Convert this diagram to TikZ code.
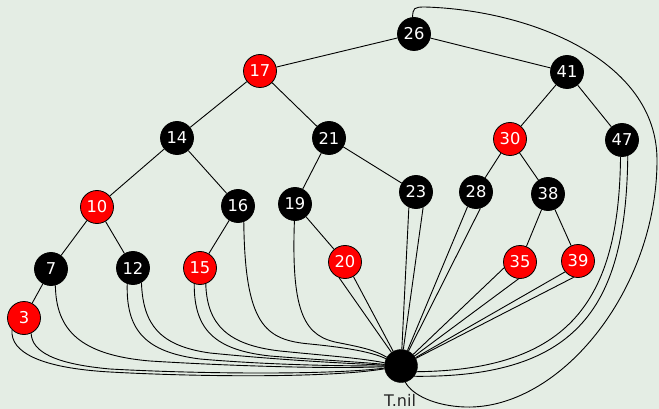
\documentclass[tikz,border=0pt]{standalone}
\usepackage{fontspec}
\setmainfont{DejaVu Sans}
\definecolor{bg}{RGB}{228,237,228}
\definecolor{rbred}{RGB}{255,0,0}
\begin{document}
\begin{tikzpicture}[x=1pt,y=-1pt,
  rbnode/.style={circle, minimum size=33pt, inner sep=0pt, draw=black, line width=0.8pt, text=white, font=\fontsize{16.3}{19}\selectfont},
  blk/.style={rbnode, fill=black},
  rd/.style={rbnode, fill=rbred},
  nilnode/.style={circle, minimum size=33pt, inner sep=0pt, draw=black, fill=black},
  nillabel/.style={text=black!85, inner sep=0pt, font=\fontsize{16}{18}\selectfont},
  link/.style={draw=black, line width=0.9pt}]
\fill[bg] (0,0) rectangle (659,409);
\useasboundingbox (0,0) rectangle (659,409);
% nodes
\node[blk] (n26) at (414,34) {26};
\node[rd]  (n17) at (260,71) {17};
\node[blk] (n41) at (567,72) {41};
\node[blk] (n14) at (177,138) {14};
\node[blk] (n21) at (329,138) {21};
\node[rd]  (n30) at (510,139) {30};
\node[blk] (n47) at (622,140) {47};
\node[rd]  (n10) at (97,207) {10};
\node[blk] (n16) at (238,206) {16};
\node[blk] (n19) at (295,204) {19};
\node[blk] (n23) at (416,192) {23};
\node[blk] (n28) at (476,192) {28};
\node[blk] (n38) at (548,194) {38};
\node[blk] (n7)  at (51,269) {7};
\node[blk] (n12) at (133,268) {12};
\node[rd]  (n15) at (200,268) {15};
\node[rd]  (n20) at (345,262) {20};
\node[rd]  (n35) at (520,262) {35};
\node[rd]  (n39) at (578,261) {39};
\node[rd]  (n3)  at (24,318) {3};
\node[nilnode] (nil) at (401,366) {};
\node[nillabel] (nillab) at (400,400) {T.nil};
% tree edges
\draw[link] (n26) -- (n17);
\draw[link] (n26) -- (n41);
\draw[link] (n17) -- (n14);
\draw[link] (n17) -- (n21);
\draw[link] (n41) -- (n30);
\draw[link] (n41) -- (n47);
\draw[link] (n14) -- (n10);
\draw[link] (n14) -- (n16);
\draw[link] (n21) -- (n19);
\draw[link] (n21) -- (n23);
\draw[link] (n30) -- (n28);
\draw[link] (n30) -- (n38);
\draw[link] (n10) -- (n7);
\draw[link] (n10) -- (n12);
\draw[link] (n16) -- (n15);
\draw[link] (n19) -- (n20);
\draw[link] (n38) -- (n35);
\draw[link] (n38) -- (n39);
\draw[link] (n7) -- (n3);
% nil edges (left side curves)
\draw[link] (n3.225) .. controls (10,352) and (40,368) .. (110,372) .. controls (200,377) and (330,378) .. (nil);
\draw[link] (n3.295) .. controls (32,352) and (55,364) .. (110,369) .. controls (200,374) and (330,375) .. (nil);
\draw[link] (n7.285) .. controls (56,330) and (80,355) .. (150,361) .. controls (230,366) and (330,369) .. (nil);
\draw[link] (n12.250) .. controls (126,330) and (145,352) .. (200,359) .. controls (270,365) and (340,366) .. (nil);
\draw[link] (n12.300) .. controls (143,325) and (160,346) .. (210,353) .. controls (280,360) and (340,363) .. (nil);
\draw[link] (n15.250) .. controls (194,330) and (215,350) .. (270,356) .. controls (320,360) and (360,362) .. (nil);
\draw[link] (n15.290) .. controls (207,325) and (228,345) .. (280,351) .. controls (330,356) and (360,358) .. (nil);
\draw[link] (n16.290) .. controls (245,325) and (265,340) .. (310,344) .. controls (340,347) and (370,351) .. (nil);
\draw[link] (n19.268) .. controls (291,315) and (305,337) .. (340,343) .. controls (360,347) and (375,350) .. (nil);
% straight nil edges
\draw[link] (n20.250) -- (nil);
\draw[link] (n20.300) -- (nil);
\draw[link] (n23.245) -- (nil);
\draw[link] (n23.295) -- (nil);
\draw[link] (n28.240) -- (nil);
\draw[link] (n28.285) -- (nil);
\draw[link] (n35.200) -- (nil);
\draw[link] (n35.265) -- (nil);
\draw[link] (n39.220) -- (nil);
\draw[link] (n39.255) -- (nil);
% right side curves
\draw[link] (n47.265) .. controls (619,300) and (570,370) .. (nil.-20);
\draw[link] (n47.290) .. controls (626,305) and (580,378) .. (nil.-38);
\draw[link] (n26.95) .. controls (413,8) and (414,7) .. (425,7) .. controls (530,10) and (657,60) .. (657,160) .. controls (657,290) and (560,410) .. (465,407) .. controls (435,406) and (412,395) .. (nil.-75);
\end{tikzpicture}
\end{document}
